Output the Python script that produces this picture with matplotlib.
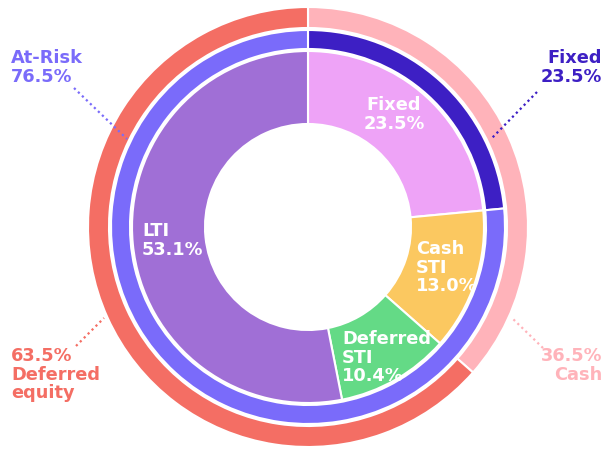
import matplotlib.pyplot as plt

# Pay mix data
outer_labels = ["Cash", "Deferred\nequity"]
outer_vals = [36.5, 63.5]
mid_labels = ["Fixed", "At-Risk"]
mid_vals = [23.5, 76.5]
inner_labels = ["Fixed", "Cash\nSTI", "Deferred\nSTI", "LTI"]
inner_vals = [23.5, 13.0, 10.4, 53.1]

outer_colors = ["#FFB3BA", "#F46E64"]
mid_colors = ["#3D1FC4", "#7A6BFA"]
inner_colors = ["#EEA3F7", "#FBC860", "#64DA86", "#A06FD6"]

plt.rcParams["font.family"] = ["DejaVu Sans"]

W, H = 611, 450
fig = plt.figure(figsize=(W / 100, H / 100), dpi=100)
ax = fig.add_axes([0, 0, 1, 1])

cx, cy = 308, H - 227  # centre in data coords (y up)
edge = dict(edgecolor="white", linewidth=1.5)

ax.pie(outer_vals, radius=220, center=(cx, cy), colors=outer_colors, startangle=90,
       counterclock=False, wedgeprops=dict(width=21, **edge))
ax.pie(mid_vals, radius=197, center=(cx, cy), colors=mid_colors, startangle=90,
       counterclock=False, wedgeprops=dict(width=19, **edge))
ax.pie(inner_vals, radius=176, center=(cx, cy), colors=inner_colors, startangle=90,
       counterclock=False, wedgeprops=dict(width=73, **edge))

ax.set_xlim(0, W)
ax.set_ylim(0, H)
ax.set_aspect("equal")
ax.axis("off")

def fy(y):  # pixel y -> data y
    return H - y

txt = dict(fontsize=12.8, fontweight="bold", linespacing=1.05)

# inner labels (white)
ax.text(394, fy(96), f"{inner_labels[0]}\n{inner_vals[0]:.1f}%", color="white", ha="center", va="top", **txt)
ax.text(416, fy(240), f"{inner_labels[1]}\n{inner_vals[1]:.1f}%", color="white", ha="left", va="top", **txt)
ax.text(342, fy(330), f"{inner_labels[2]}\n{inner_vals[2]:.1f}%", color="white", ha="left", va="top", **txt)
ax.text(142, fy(222), f"{inner_labels[3]}\n{inner_vals[3]:.1f}%", color="white", ha="left", va="top", **txt)

# outer labels with dotted leader lines
ax.text(11, fy(49), f"{mid_labels[1]}\n{mid_vals[1]:.1f}%", color=mid_colors[1], ha="left", va="top", **txt)
ax.text(602, fy(49), f"{mid_labels[0]}\n{mid_vals[0]:.1f}%", color=mid_colors[0], ha="right", va="top", **txt)
ax.text(11, fy(347), f"{outer_vals[1]:.1f}%\n{outer_labels[1]}", color=outer_colors[1], ha="left", va="top", **txt)
ax.text(602, fy(347), f"{outer_vals[0]:.1f}%\n{outer_labels[0]}", color=outer_colors[0], ha="right", va="top", **txt)

dots = dict(linestyle=(0, (1, 1.5)), linewidth=1.6)
ax.plot([74, 127], [fy(88), fy(139)], color=mid_colors[1], **dots)
ax.plot([537, 492], [fy(92), fy(138)], color=mid_colors[0], **dots)
ax.plot([76, 104], [fy(346), fy(318)], color=outer_colors[1], **dots)
ax.plot([543, 512], [fy(348), fy(318)], color=outer_colors[0], **dots)

plt.savefig("out.png", dpi=100)
